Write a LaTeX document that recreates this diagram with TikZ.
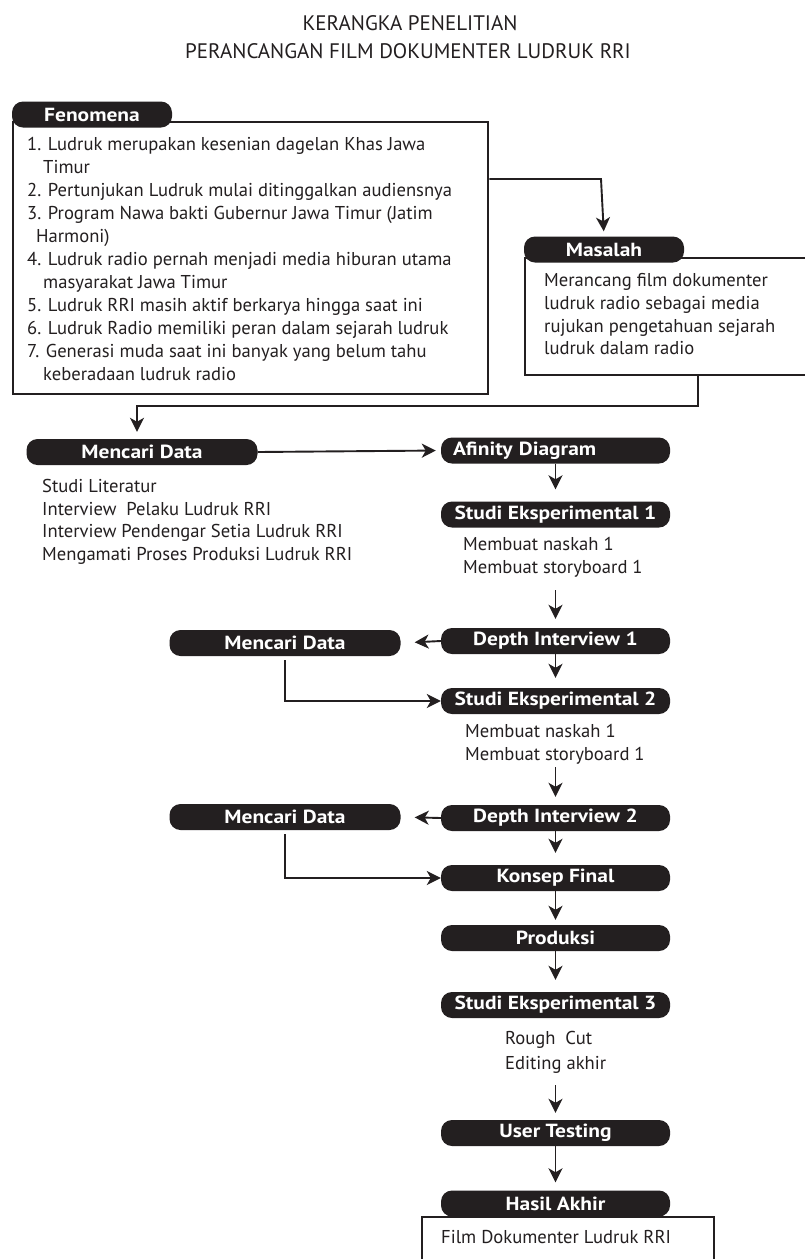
\documentclass[tikz,border=0pt]{standalone}
\usepackage{fontspec}
\setmainfont{PT Sans}
\newfontfamily\pillfont{PT Sans Bold}[FakeStretch=1.13]
\usetikzlibrary{arrows.meta}
\definecolor{ink}{RGB}{35,31,32}
\begin{document}
\begin{tikzpicture}[x=1pt,y=-1pt,
  pill/.style={fill=ink, text=white, rounded corners=11pt, font=\pillfont\fontsize{19}{21}\selectfont, minimum height=26pt, inner sep=0pt},
  mainpill/.style={pill, minimum width=229pt},
  sidepill/.style={pill, minimum width=231pt},
  tag/.style={pill, minimum width=160pt},
  body/.style={font=\fontsize{18.6}{23}\selectfont, text=ink, inner sep=0pt, anchor=base west},
  ttl/.style={font=\fontsize{21}{24}\selectfont, text=ink, inner sep=0pt, anchor=base},
  conn/.style={draw=ink, line width=1.9pt},
  arr/.style={conn, -{Stealth[length=14pt,width=14pt,inset=4pt]}},
  frame/.style={draw=ink, line width=2.4pt, inner sep=0pt, anchor=north west}
]
\useasboundingbox (0,0) rectangle (804,1259);
\fill[white] (0,0) rectangle (804,1259);

% title
\node[ttl] (t1) at (410,30) {KERANGKA PENELITIAN};
\node[ttl] (t2) at (408,58) {PERANCANGAN FILM DOKUMENTER LUDRUK RRI};

% Fenomena
\node[frame, minimum width=475pt, minimum height=272pt] (fenbox) at (12,121) {};
\node[tag] (fen) at (92,114.5) {Fenomena};
\node[body] (f1) at (27,150.7) {1. Ludruk merupakan kesenian dagelan Khas Jawa};
\node[body] (f2) at (43,173.7) {Timur};
\node[body] (f3) at (27,196.7) {2. Pertunjukan Ludruk mulai ditinggalkan audiensnya};
\node[body] (f4) at (27,219.7) {3. Program Nawa bakti Gubernur Jawa Timur (Jatim};
\node[body] (f5) at (36,242.7) {Harmoni)};
\node[body] (f6) at (27,265.7) {4. Ludruk radio pernah menjadi media hiburan utama};
\node[body] (f7) at (43,288.7) {masyarakat Jawa Timur};
\node[body] (f8) at (27,311.7) {5. Ludruk RRI masih aktif berkarya hingga saat ini};
\node[body] (f9) at (27,334.7) {6. Ludruk Radio memiliki peran dalam sejarah ludruk};
\node[body] (f10) at (27,357.7) {7. Generasi muda saat ini banyak yang belum tahu};
\node[body] (f11) at (43,380.7) {keberadaan ludruk radio};

% Masalah
\node[frame, minimum width=300pt, minimum height=117pt] (masbox) at (524,257) {};
\node[tag] (mas) at (604,249.5) {Masalah};
\node[body] (m1) at (544,286.7) {Merancang film dokumenter};
\node[body] (m2) at (544,309.4) {ludruk radio sebagai media};
\node[body] (m3) at (544,332.1) {rujukan pengetahuan sejarah};
\node[body] (m4) at (544,354.8) {ludruk dalam radio};

% Mencari Data 1
\node[sidepill] (md1) at (142,452) {Mencari Data};
\node[body] (d1) at (42,492.7) {Studi Literatur};
\node[body] (d2) at (42,515.2) {Interview\ \ Pelaku Ludruk RRI};
\node[body] (d3) at (42,537.7) {Interview Pendengar Setia Ludruk RRI};
\node[body] (d4) at (42,560.2) {Mengamati Proses Produksi Ludruk RRI};

% main column
\node[mainpill, text width=205pt, align=left] (afi) at (555.5,450.5) {Afinity Diagram};
\node[mainpill] (se1) at (555.5,514.5) {Studi Eksperimental 1};
\node[body] (s1a) at (463,550.7) {Membuat naskah 1};
\node[body] (s1b) at (463,573.3) {Membuat storyboard 1};
\node[mainpill] (di1) at (555.5,641) {Depth Interview 1};
\node[sidepill] (md2) at (285,643) {Mencari Data};
\node[mainpill] (se2) at (555.5,701) {Studi Eksperimental 2};
\node[body] (s2a) at (465,737.5) {Membuat naskah 1};
\node[body] (s2b) at (465,760.1) {Membuat storyboard 1};
\node[mainpill] (di2) at (555.5,818) {Depth Interview 2};
\node[sidepill] (md3) at (285,817) {Mencari Data};
\node[mainpill] (kon) at (555.5,878) {Konsep Final};
\node[mainpill] (pro) at (555.5,938) {Produksi};
\node[mainpill] (se3) at (555.5,1005) {Studi Eksperimental 3};
\node[body] (s3a) at (505,1044) {Rough\ \ Cut};
\node[body] (s3b) at (505,1069) {Editing akhir};
\node[mainpill] (ut) at (555.5,1133) {User Testing};
\node[frame, minimum width=292pt, minimum height=60pt] (hasbox) at (421,1216) {};
\node[mainpill] (has) at (555.5,1203.5) {Hasil Akhir};
\node[body] (h1) at (441,1243) {Film Dokumenter Ludruk RRI};

% connectors
\coordinate (c1) at (601,179);
\draw[arr, shorten >=5pt] (fenbox.east |- c1) -- (c1) -- (mas.north);
\coordinate (c2) at (698,406);
\coordinate (c3) at (137,406);
\draw[arr, shorten >=7pt] (masbox.south -| c2) -- (c2) -- (c3) -- (c3 |- md1.north);
\draw[arr, shorten >=5pt] (md1.east) -- (afi.west);
\draw[arr, shorten >=12pt] (afi.south) -- (se1.north);
\coordinate (c4) at (555.5,590);
\draw[arr, shorten >=9pt] (c4) -- (di1.north);
\draw[arr, shorten >=14pt] (di1.west) -- (md2.east);
\draw[arr, shorten >=10pt] (di1.south) -- (se2.north);
\draw[arr, shorten <=4pt] (md2.south) -- (md2.south |- se2.west) -- (se2.west);
\coordinate (c5) at (555.5,767);
\draw[arr, shorten >=8pt] (c5) -- (di2.north);
\draw[arr, shorten >=14pt] (di2.west) -- (md3.east);
\draw[arr, shorten >=12pt] (di2.south) -- (kon.north);
\draw[arr, shorten <=4pt] (md3.south) -- (md3.south |- kon.west) -- (kon.west);
\draw[arr, shorten >=5pt] (kon.south) -- (pro.north);
\draw[arr, shorten >=12pt] (pro.south) -- (se3.north);
\coordinate (c6) at (555.5,1085);
\draw[arr, shorten >=7pt] (c6) -- (ut.north);
\draw[arr, shorten >=8pt] (ut.south) -- (has.north);
\end{tikzpicture}
\end{document}
